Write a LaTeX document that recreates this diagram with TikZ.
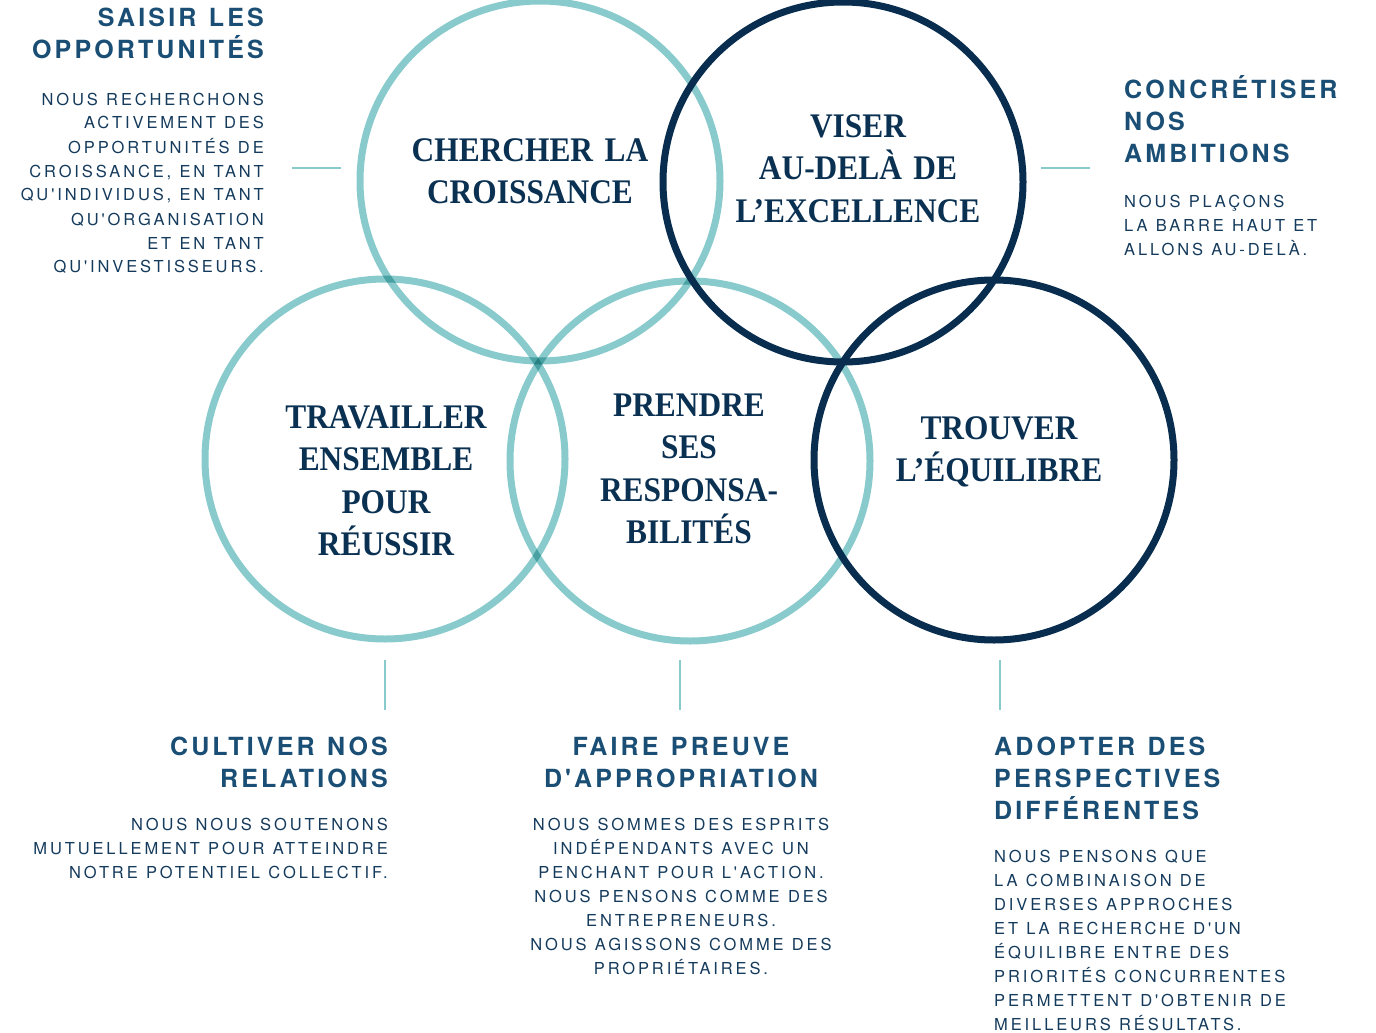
\documentclass[tikz,border=0pt]{standalone}
\usepackage{fontspec}
\newfontfamily\headfont[LetterSpace=12.5]{TeX Gyre Heros}
\newfontfamily\bodyfont[LetterSpace=17.5]{TeX Gyre Heros}
\newfontfamily\circfont[FakeStretch=0.91]{Liberation Serif}
\newcommand\headsetup{\headfont\bfseries\fontsize{25}{32}\selectfont}
\newcommand\bodysetup{\bodyfont\fontsize{16.5}{24}\selectfont}
\newcommand\circsetup{\circfont\bfseries\fontsize{34.5}{42.5}\selectfont}
\newcommand\gap{\hspace{0.5em}}
\definecolor{tealc}{RGB}{137,203,204}
\definecolor{navyc}{RGB}{8,45,79}
\definecolor{headc}{RGB}{26,78,116}
\definecolor{bodyc}{RGB}{20,58,92}
\definecolor{labc}{RGB}{10,48,82}
\tikzset{
  ring/.style={circle, minimum size=360pt, inner sep=0pt, line width=7pt},
  tealring/.style={ring, draw=tealc},
  navyring/.style={ring, draw=navyc},
  clabel/.style={text width=320pt, align=center, anchor=base, inner sep=0pt, text=labc,
    font={\circsetup}},
  heading/.style={text width=420pt, inner sep=0pt, text=headc, font={\headsetup}},
  body/.style={text width=420pt, inner sep=0pt, text=bodyc, font={\bodysetup}},
  rightset/.style={align=right, anchor=base east},
  leftset/.style={align=left, anchor=base west},
  midset/.style={align=center, anchor=base},
  conn/.style={draw=tealc, line width=2.5pt}
}
\begin{document}
\begin{tikzpicture}[x=1pt,y=-1pt]
\useasboundingbox (0,0) rectangle (1376,1033);
% circles
\begin{scope}[blend mode=multiply]
\node[tealring] (c1) at (540,181) {};
\node[tealring] (c3) at (385,459) {};
\node[tealring] (c4) at (690,461) {};
\end{scope}
\node[navyring] (c2) at (843,182) {};
\node[navyring] (c5) at (994,460) {};
% circle labels
\node[clabel] (l1) at (530,161) {CHERCHER LA\\CROISSANCE};
\node[clabel] (l2) at (858,137) {VISER\\AU-DELÀ DE\\L’EXCELLENCE};
\node[clabel] (l3) at (386,428) {TRAVAILLER\\ENSEMBLE\\POUR\\RÉUSSIR};
\node[clabel] (l4) at (689,416) {PRENDRE\\SES\\RESPONSA-\\BILITÉS};
\node[clabel] (l5) at (999,439) {TROUVER\\L’ÉQUILIBRE};
% side texts
\node[heading, rightset] (h1) at (264,27) {SAISIR\gap LES\\OPPORTUNITÉS};
\node[body, rightset] (b1) at (264,105) {NOUS\gap RECHERCHONS\\ACTIVEMENT\gap DES\\OPPORTUNITÉS\gap DE\\CROISSANCE,\gap EN\gap TANT\\QU'INDIVIDUS,\gap EN\gap TANT\\QU'ORGANISATION\\ET\gap EN\gap TANT\\QU'INVESTISSEURS.};
\node[heading, leftset] (h2) at (1124,99) {CONCRÉTISER\\NOS\\AMBITIONS};
\node[body, leftset] (b2) at (1124,207) {NOUS\gap PLAÇONS\\LA\gap BARRE\gap HAUT\gap ET\\ALLONS\gap AU-DELÀ.};
\node[heading, rightset] (h3) at (388,755) {CULTIVER\gap NOS\\RELATIONS};
\node[body, rightset] (b3) at (388,830) {NOUS\gap NOUS\gap SOUTENONS\\MUTUELLEMENT\gap POUR\gap ATTEINDRE\\NOTRE\gap POTENTIEL\gap COLLECTIF.};
\node[heading, midset] (h4) at (681,755) {FAIRE\gap PREUVE\\D'APPROPRIATION};
\node[body, midset] (b4) at (681,830) {NOUS\gap SOMMES\gap DES\gap ESPRITS\\INDÉPENDANTS\gap AVEC\gap UN\\PENCHANT\gap POUR\gap L'ACTION.\\NOUS\gap PENSONS\gap COMME\gap DES\\ENTREPRENEURS.\\NOUS\gap AGISSONS\gap COMME\gap DES\\PROPRIÉTAIRES.};
\node[heading, leftset] (h5) at (994,755) {ADOPTER\gap DES\\PERSPECTIVES\\DIFFÉRENTES};
\node[body, leftset] (b5) at (994,862) {NOUS\gap PENSONS\gap QUE\\LA\gap COMBINAISON\gap DE\\DIVERSES\gap APPROCHES\\ET\gap LA\gap RECHERCHE\gap D'UN\\ÉQUILIBRE\gap ENTRE\gap DES\\PRIORITÉS\gap CONCURRENTES\\PERMETTENT\gap D'OBTENIR\gap DE\\MEILLEURS\gap RÉSULTATS.};
% connectors
\coordinate (k1a) at (292,168); \coordinate (k1b) at (341,168);
\coordinate (k2a) at (1041,168); \coordinate (k2b) at (1090,168);
\coordinate (k3a) at (385,660); \coordinate (k3b) at (385,710);
\coordinate (k4a) at (680,660); \coordinate (k4b) at (680,710);
\coordinate (k5a) at (1000,660); \coordinate (k5b) at (1000,710);
\draw[conn] (k1a) -- (k1b);
\draw[conn] (k2a) -- (k2b);
\draw[conn] (k3a) -- (k3b);
\draw[conn] (k4a) -- (k4b);
\draw[conn] (k5a) -- (k5b);
\end{tikzpicture}
\end{document}
